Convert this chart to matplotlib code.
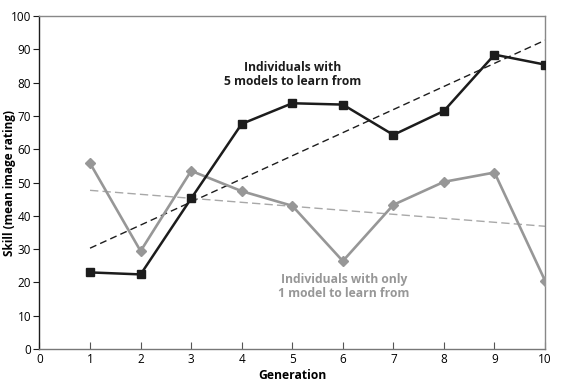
import numpy as np
import matplotlib
matplotlib.use('Agg')
import matplotlib.pyplot as plt

plt.rcParams['font.family'] = ['Open Sans', 'DejaVu Sans']

generation = [1, 2, 3, 4, 5, 6, 7, 8, 9, 10]
five_models = [23.0, 22.4, 45.2, 67.6, 73.8, 73.4, 64.3, 71.5, 88.4, 85.4]
one_model = [55.8, 29.4, 53.5, 47.4, 43.0, 26.4, 43.3, 50.2, 53.0, 20.5]

dark = '#1c1c1c'
grey = '#979797'

fig = plt.figure(figsize=(5.78, 3.82), dpi=100)
ax = fig.add_axes([0.0683, 0.0864, 0.8747, 0.8717])

# linear trends
x = np.array(generation)
for ys, c, ls in [(five_models, dark, (0, (5, 3))), (one_model, '#a8a8a8', (0, (6, 3)))]:
    k, b = np.polyfit(x, ys, 1)
    ax.plot([x[0], x[-1]], [k * x[0] + b, k * x[-1] + b], color=c, lw=1.0, linestyle=ls, zorder=2)

ax.plot(generation, one_model, color=grey, lw=1.9, marker='D', markersize=5, zorder=3)
ax.plot(generation, five_models, color=dark, lw=1.8, marker='s', markersize=5.5, zorder=4)

ax.text(5.0, 82.3, 'Individuals with\n5 models to learn from', ha='center', va='center',
        fontsize=8.7, fontweight='bold', color=dark, linespacing=1.1)
ax.text(6.02, 18.9, 'Individuals with only\n1 model to learn from', ha='center', va='center',
        fontsize=8.7, fontweight='bold', color=grey, linespacing=1.1)

ax.set_xlim(0, 10)
ax.set_ylim(0, 100)
ax.set_xticks(range(0, 11))
ax.set_yticks(range(0, 101, 10))
ax.tick_params(axis='x', direction='in', length=5, color='#555555', labelsize=8.5, pad=3)
ax.tick_params(axis='y', direction='out', length=4, color=dark, labelsize=8.5, pad=2)

ax.spines['left'].set_color(dark)
ax.spines['bottom'].set_color('#777777')
ax.spines['top'].set_color('#888888')
ax.spines['right'].set_color('#888888')
for s in ax.spines.values():
    s.set_linewidth(1.0)

ax.set_xlabel('Generation', fontsize=8.7, fontweight='bold', labelpad=2)
ax.set_ylabel('Skill (mean image rating)', fontsize=8.5, fontweight='bold')
ax.yaxis.set_label_coords(-0.047, 0.5)

fig.savefig('out.png', dpi=100)
